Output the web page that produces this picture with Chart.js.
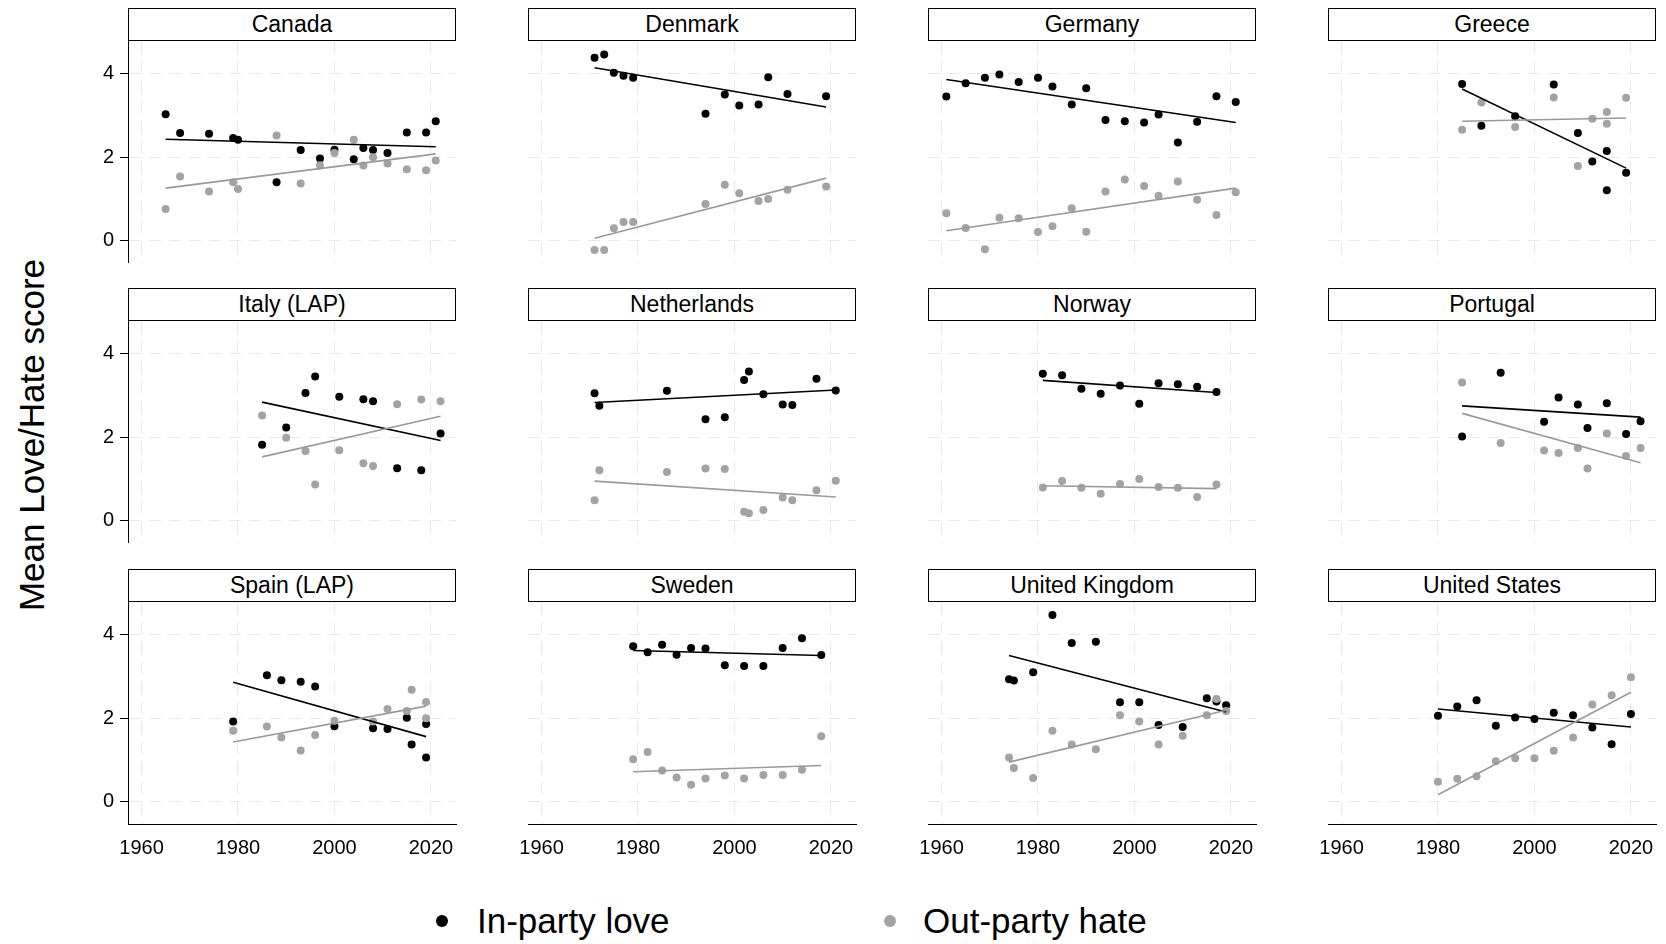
<!DOCTYPE html>
<html><head><meta charset="utf-8">
<script src="https://cdn.jsdelivr.net/npm/chart.js@4/dist/chart.umd.min.js"></script>
<style>
html,body{margin:0;padding:0;background:#fff;}
body{width:1666px;height:944px;position:relative;overflow:hidden;font-family:'Liberation Sans',Arial,sans-serif;color:#000;}
.hdr{position:absolute;box-sizing:border-box;border:1px solid #000;background:#fff;display:flex;align-items:center;justify-content:center;font-size:23px;color:#000;}
canvas{position:absolute;}
#ytitle{position:absolute;left:32px;top:435px;transform:translate(-50%,-50%) rotate(-90deg);font-size:35px;white-space:nowrap;}
.leg{position:absolute;top:921px;transform:translateY(-50%);font-size:35px;white-space:nowrap;}
.dot{position:absolute;width:12px;height:12px;border-radius:50%;top:915px;}
</style></head><body>
<div id="ytitle">Mean Love/Hate score</div>
<div class="dot" style="left:436px;background:#000"></div>
<div class="leg" style="left:477px">In-party love</div>
<div class="dot" style="left:884px;background:#a3a3a3"></div>
<div class="leg" style="left:923px">Out-party hate</div>
<script>
// ---------- data ----------
const countries = ["Canada","Denmark","Germany","Greece","Italy (LAP)","Netherlands","Norway","Portugal","Spain (LAP)","Sweden","United Kingdom","United States"];
const xTickValues = [1960, 1980, 2000, 2020];
const yTickValues = [0, 2, 4];

const canadaYears = [1965,1968,1974,1979,1980,1988,1993,1997,2000,2004,2006,2008,2011,2015,2019,2021];
const canadaLove  = [3.03,2.58,2.56,2.46,2.42,1.40,2.17,1.97,2.18,1.95,2.22,2.17,2.10,2.59,2.59,2.86];
const canadaHate  = [0.76,1.54,1.18,1.40,1.24,2.52,1.37,1.81,2.10,2.42,1.80,2.00,1.85,1.71,1.69,1.92];
const canadaFitYears = [1965, 2021];
const canadaLoveFit = [2.43, 2.25];
const canadaHateFit = [1.26, 2.08];

const denmarkYears = [1971,1973,1975,1977,1979,1994,1998,2001,2005,2007,2011,2019];
const denmarkLove  = [4.38,4.46,4.02,3.95,3.90,3.04,3.50,3.24,3.26,3.91,3.51,3.46];
const denmarkHate  = [-0.22,-0.22,0.30,0.45,0.45,0.88,1.34,1.14,0.95,1.00,1.22,1.30];
const denmarkFitYears = [1971, 2019];
const denmarkLoveFit = [4.14, 3.20];
const denmarkHateFit = [0.06, 1.50];

const germanyYears = [1961,1965,1969,1972,1976,1980,1983,1987,1990,1994,1998,2002,2005,2009,2013,2017,2021];
const germanyLove  = [3.45,3.77,3.90,3.98,3.80,3.90,3.69,3.26,3.65,2.89,2.86,2.83,3.02,2.35,2.85,3.46,3.32];
const germanyHate  = [0.66,0.31,-0.20,0.55,0.54,0.21,0.35,0.78,0.22,1.18,1.47,1.31,1.08,1.42,0.98,0.62,1.16];
const germanyFitYears = [1961, 2021];
const germanyLoveFit = [3.86, 2.83];
const germanyHateFit = [0.24, 1.26];

const greeceYears = [1985,1989,1996,2004,2009,2012,2015,2015,2019];
const greeceLove  = [3.75,2.75,2.98,3.74,2.58,1.90,2.15,1.21,1.63];
const greeceHate  = [2.66,3.31,2.72,3.43,1.79,2.92,3.08,2.80,3.42];
const greeceFitYears = [1985, 2019];
const greeceLoveFit = [3.63, 1.74];
const greeceHateFit = [2.86, 2.94];

const italyYears = [1985,1990,1994,1996,2001,2006,2008,2013,2018,2022];
const italyLove  = [1.82,2.23,3.06,3.45,2.97,2.91,2.86,1.26,1.21,2.09];
const italyHate  = [2.52,1.99,1.67,0.87,1.69,1.38,1.31,2.79,2.90,2.86];
const italyFitYears = [1985, 2022];
const italyLoveFit = [2.84, 1.92];
const italyHateFit = [1.53, 2.50];

const netherlandsYears = [1971,1972,1986,1994,1998,2002,2003,2006,2010,2012,2017,2021];
const netherlandsLove  = [3.05,2.75,3.11,2.43,2.48,3.37,3.57,3.03,2.78,2.77,3.40,3.12];
const netherlandsHate  = [0.49,1.21,1.17,1.25,1.24,0.22,0.18,0.26,0.56,0.49,0.73,0.96];
const netherlandsFitYears = [1971, 2021];
const netherlandsLoveFit = [2.83, 3.13];
const netherlandsHateFit = [0.95, 0.57];

const norwayYears = [1981,1985,1989,1993,1997,2001,2005,2009,2013,2017];
const norwayLove  = [3.52,3.48,3.16,3.04,3.24,2.80,3.29,3.27,3.21,3.08];
const norwayHate  = [0.80,0.95,0.79,0.65,0.88,1.00,0.81,0.79,0.57,0.87];
const norwayFitYears = [1981, 2017];
const norwayLoveFit = [3.36, 3.07];
const norwayHateFit = [0.84, 0.77];

const portugalYears = [1985,1993,2002,2005,2009,2011,2015,2019,2022];
const portugalLove  = [2.02,3.54,2.37,2.95,2.78,2.22,2.81,2.08,2.38];
const portugalHate  = [3.31,1.86,1.68,1.62,1.74,1.25,2.09,1.55,1.74];
const portugalFitYears = [1985, 2022];
const portugalLoveFit = [2.75, 2.48];
const portugalHateFit = [2.57, 1.39];

const spainYears = [1979,1986,1989,1993,1996,2000,2008,2011,2015,2016,2019,2019];
const spainLove  = [1.92,3.03,2.91,2.87,2.76,1.81,1.76,1.74,2.01,1.37,1.86,1.06];
const spainHate  = [1.70,1.80,1.54,1.23,1.60,1.94,1.92,2.22,2.17,2.68,2.39,2.00];
const spainFitYears = [1979, 2019];
const spainLoveFit = [2.86, 1.56];
const spainHateFit = [1.43, 2.29];

const swedenYears = [1979,1982,1985,1988,1991,1994,1998,2002,2006,2010,2014,2018];
const swedenLove  = [3.72,3.58,3.76,3.52,3.68,3.67,3.27,3.25,3.25,3.68,3.91,3.51];
const swedenHate  = [1.02,1.19,0.75,0.58,0.41,0.56,0.63,0.56,0.64,0.64,0.77,1.57];
const swedenFitYears = [1979, 2018];
const swedenLoveFit = [3.62, 3.50];
const swedenHateFit = [0.72, 0.87];

const ukYears = [1974,1975,1979,1983,1987,1992,1997,2001,2005,2010,2015,2017,2019];
const ukLove  = [2.93,2.90,3.10,4.47,3.80,3.83,2.38,2.38,1.84,1.79,2.48,2.40,2.31];
const ukHate  = [1.06,0.81,0.57,1.70,1.37,1.26,2.07,1.92,1.37,1.58,2.07,2.46,2.17];
const ukFitYears = [1974, 2019];
const ukLoveFit = [3.50, 2.15];
const ukHateFit = [0.95, 2.19];

const usYears = [1980,1984,1988,1992,1996,2000,2004,2008,2012,2016,2020];
const usLove  = [2.06,2.28,2.43,1.82,2.02,1.98,2.13,2.07,1.78,1.38,2.10];
const usHate  = [0.48,0.55,0.61,0.97,1.04,1.04,1.22,1.54,2.33,2.55,2.98];
const usFitYears = [1980, 2020];
const usLoveFit = [2.22, 1.79];
const usHateFit = [0.17, 2.62];

const panelData = [
  [canadaYears, canadaLove, canadaHate, canadaFitYears, canadaLoveFit, canadaHateFit],
  [denmarkYears, denmarkLove, denmarkHate, denmarkFitYears, denmarkLoveFit, denmarkHateFit],
  [germanyYears, germanyLove, germanyHate, germanyFitYears, germanyLoveFit, germanyHateFit],
  [greeceYears, greeceLove, greeceHate, greeceFitYears, greeceLoveFit, greeceHateFit],
  [italyYears, italyLove, italyHate, italyFitYears, italyLoveFit, italyHateFit],
  [netherlandsYears, netherlandsLove, netherlandsHate, netherlandsFitYears, netherlandsLoveFit, netherlandsHateFit],
  [norwayYears, norwayLove, norwayHate, norwayFitYears, norwayLoveFit, norwayHateFit],
  [portugalYears, portugalLove, portugalHate, portugalFitYears, portugalLoveFit, portugalHateFit],
  [spainYears, spainLove, spainHate, spainFitYears, spainLoveFit, spainHateFit],
  [swedenYears, swedenLove, swedenHate, swedenFitYears, swedenLoveFit, swedenHateFit],
  [ukYears, ukLove, ukHate, ukFitYears, ukLoveFit, ukHateFit],
  [usYears, usLove, usHate, usFitYears, usLoveFit, usHateFit]
];

// ---------- layout ----------
const colLeft = [128, 528, 928, 1328];
const headerTop = [8, 288, 569];
const HEADER_H = 33, PLOT_W = 328, PLOT_H = 222, AXW = 60, RPAD = 10, XAXH = 50;
const BLACK = '#000000', GRAY = '#a3a3a3', GRAYLINE = '#9a9a9a', GRID = '#e9e9e9';
const FONT = "'Liberation Sans', Arial, sans-serif";

const pts = (xs, ys) => xs.map((x, i) => ({x: x, y: ys[i]}));
const noPad = s => { s.paddingTop = 0; s.paddingBottom = 0; s.paddingLeft = 0; s.paddingRight = 0; };

countries.forEach((name, i) => {
  const col = i % 4, row = Math.floor(i / 4);
  const isBottom = row === 2, isLeft = col === 0;
  const hdr = document.createElement('div');
  hdr.className = 'hdr';
  hdr.style.left = colLeft[col] + 'px';
  hdr.style.top = headerTop[row] + 'px';
  hdr.style.width = PLOT_W + 'px';
  hdr.style.height = HEADER_H + 'px';
  hdr.textContent = name;
  document.body.appendChild(hdr);

  const cv = document.createElement('canvas');
  const cw = AXW + PLOT_W + RPAD, ch = PLOT_H + (isBottom ? XAXH : 0);
  cv.width = cw; cv.height = ch;
  cv.style.width = cw + 'px'; cv.style.height = ch + 'px';
  cv.style.left = (colLeft[col] - AXW) + 'px';
  cv.style.top = (headerTop[row] + HEADER_H) + 'px';
  document.body.appendChild(cv);

  const [yrs, love, hate, fy, lf, hf] = panelData[i];
  new Chart(cv, {
    type: 'scatter',
    data: {
      datasets: [
        {data: pts(fy, hf), showLine: true, pointRadius: 0, borderColor: GRAYLINE, borderWidth: 1.6, fill: false},
        {data: pts(fy, lf), showLine: true, pointRadius: 0, borderColor: BLACK, borderWidth: 1.6, fill: false},
        {data: pts(yrs, hate), pointRadius: 4, pointBackgroundColor: GRAY, pointBorderWidth: 0, borderColor: GRAY},
        {data: pts(yrs, love), pointRadius: 4, pointBackgroundColor: BLACK, pointBorderWidth: 0, borderColor: BLACK}
      ]
    },
    options: {
      responsive: false, animation: false, devicePixelRatio: 1,
      layout: {padding: {left: 0, right: RPAD, top: 0, bottom: 0}, autoPadding: false},
      plugins: {legend: {display: false}, tooltip: {enabled: false}},
      events: [],
      scales: {
        x: {
          type: 'linear', min: 1957.2, max: 2025.2,
          afterBuildTicks: s => { s.ticks = xTickValues.map(v => ({value: v})); },
          afterFit: s => { s.height = isBottom ? XAXH : 0; noPad(s); },
          ticks: {display: isBottom, color: BLACK, font: {family: FONT, size: 20}, padding: 12,
                  autoSkip: false, maxRotation: 0, callback: v => String(v)},
          grid: {color: GRID, lineWidth: 1, drawTicks: false},
          border: {display: isBottom, color: BLACK, width: 1, dash: [12, 8]}
        },
        y: {
          type: 'linear', min: -0.53, max: 4.78,
          afterBuildTicks: s => { s.ticks = yTickValues.map(v => ({value: v})); },
          afterFit: s => { s.width = AXW; noPad(s); },
          ticks: {display: isLeft, color: BLACK, font: {family: FONT, size: 20}, padding: 6,
                  callback: v => String(v)},
          grid: {color: GRID, lineWidth: 1, drawTicks: isLeft, tickLength: 8, tickColor: BLACK, tickWidth: 1},
          border: {display: isLeft, color: BLACK, width: 1, dash: [12, 8]}
        }
      }
    }
  });
});
</script>
</body></html>
